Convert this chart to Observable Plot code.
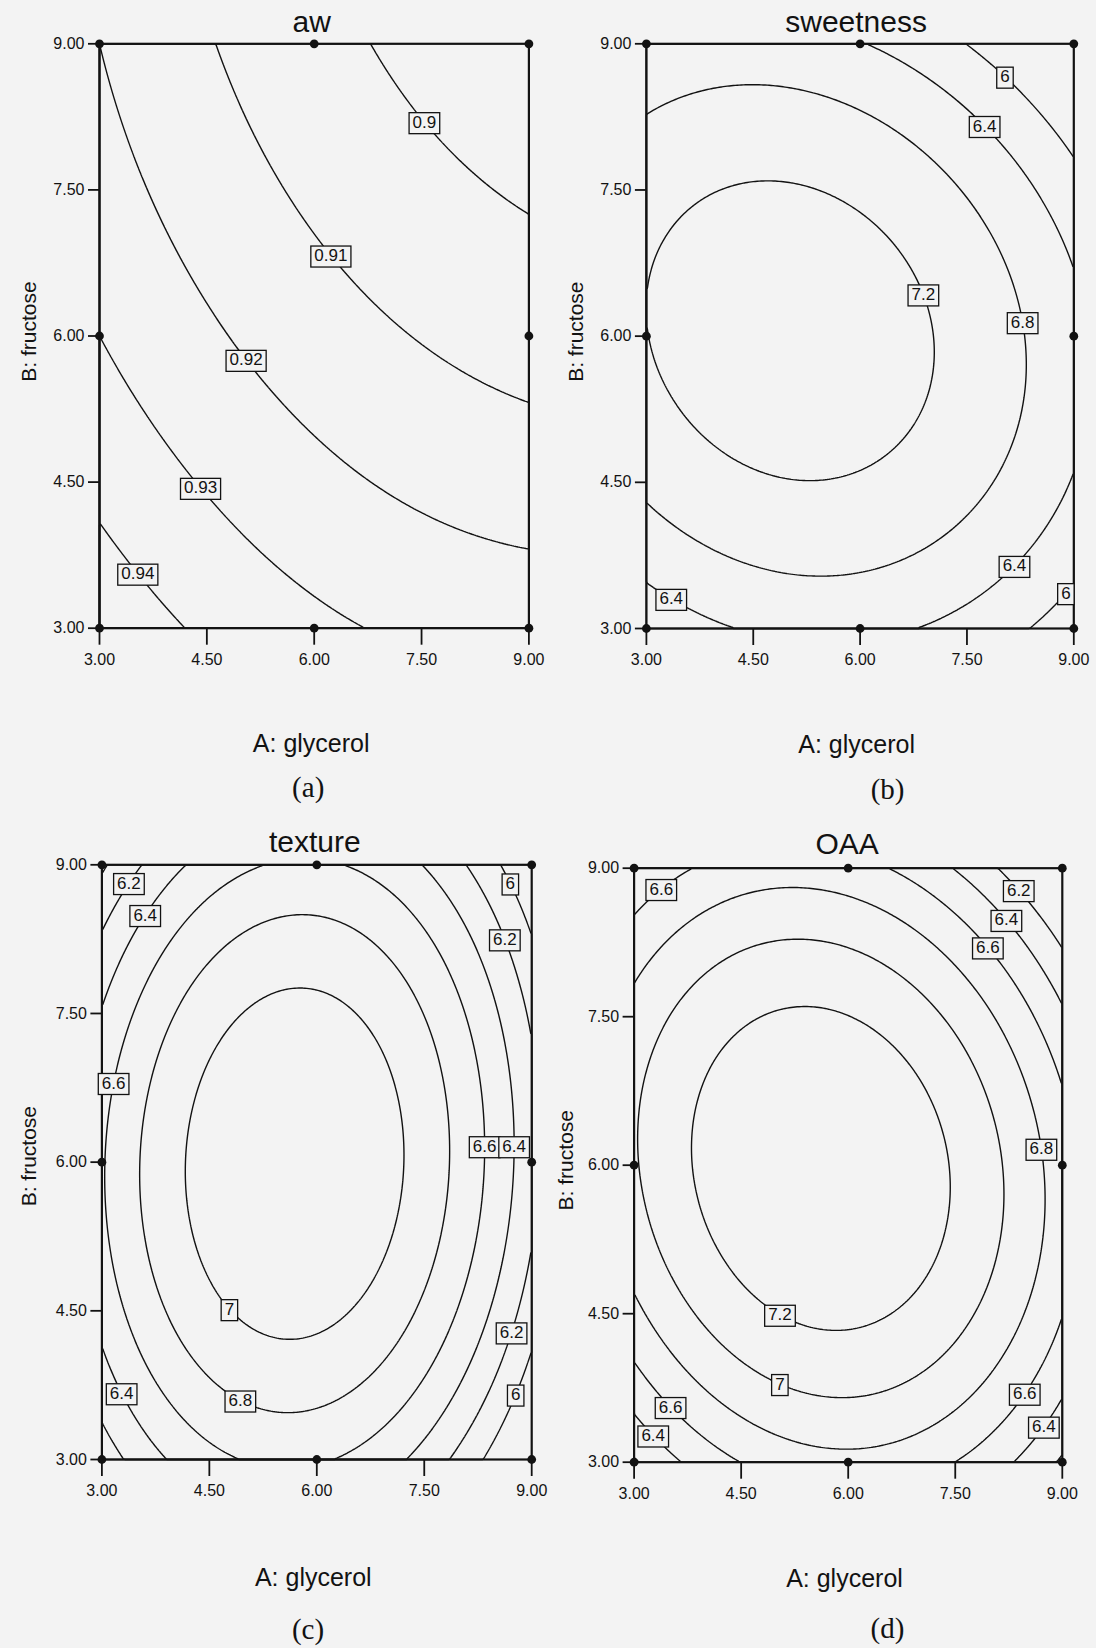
<!DOCTYPE html>
<html>
<head>
<meta charset="utf-8">
<script src="https://cdn.jsdelivr.net/npm/d3@7"></script>
<script src="https://cdn.jsdelivr.net/npm/@observablehq/plot@0.6"></script>
<style>
  html, body { margin: 0; padding: 0; background: #f3f3f3; }
  #fig { position: relative; width: 1096px; height: 1648px; overflow: hidden; background: #f3f3f3; }
  .panel { position: absolute; }
</style>
</head>
<body>
<div id="fig"></div>
<script>
// ---------------- DATA ----------------
// design levels of the two factors (A: glycerol, B: fructose)
const glycerolLevels = [3, 6, 9];
const fructoseLevels = [3, 6, 9];
const axisTicks = [3, 4.5, 6, 7.5, 9];
// design points drawn as dots
const designGlycerol = [3, 6, 9, 3, 9, 3, 6, 9];
const designFructose = [3, 3, 3, 6, 6, 9, 9, 9];

// responses read at the design grid: rows = fructose 3, 6, 9; columns = glycerol 3, 6, 9
const awGrid = [
  [0.9469, 0.9322, 0.9262],
  [0.9300, 0.9147, 0.9061],
  [0.9200, 0.9032, 0.8937]
];
const sweetnessGrid = [
  [6.110, 6.484, 5.760],
  [7.193, 7.381, 6.504],
  [6.455, 6.417, 5.300]
];
const textureGrid = [
  [6.075, 6.621, 5.647],
  [6.581, 7.190, 6.265],
  [5.965, 6.622, 5.787]
];
const oaaGrid = [
  [6.177, 6.743, 6.169],
  [6.979, 7.390, 6.694],
  [6.422, 6.675, 5.830]
];

// contour levels
const awLevels = [0.90, 0.91, 0.92, 0.93, 0.94];
const sweetnessLevels = [6.0, 6.4, 6.8, 7.2];
const textureLevels = [6.0, 6.2, 6.4, 6.6, 6.8, 7.0];
const oaaLevels = [6.2, 6.4, 6.6, 6.8, 7.0, 7.2];

// contour labels (level, glycerol, fructose)
const awLabelLevel = [0.90, 0.91, 0.92, 0.93, 0.94];
const awLabelX = [7.58, 6.31, 5.14, 4.50, 3.60];
const awLabelY = [8.24, 6.91, 5.85, 4.54, 3.63];

const sweetnessLabelLevel = [6.0, 6.4, 7.2, 6.8, 6.4, 6.4, 6.0];
const sweetnessLabelX = [8.10, 7.81, 6.93, 8.27, 3.40, 8.10, 8.84];
const sweetnessLabelY = [8.76, 8.24, 6.45, 6.14, 3.42, 3.73, 3.42];

const textureLabelLevel = [6.2, 6.4, 6.6, 7.0, 6.8, 6.4, 6.6, 6.4, 6.2, 6.0, 6.2, 6.0];
const textureLabelX = [3.35, 3.54, 3.34, 4.87, 4.98, 3.35, 8.32, 8.70, 8.63, 8.73, 8.61, 8.68];
const textureLabelY = [8.84, 8.55, 6.75, 4.63, 3.72, 3.72, 6.16, 6.16, 8.25, 8.83, 4.33, 3.71];

const oaaLabelLevel = [6.6, 6.2, 6.4, 6.6, 6.8, 7.2, 7.0, 6.6, 6.4, 6.6, 6.4];
const oaaLabelX = [3.34, 8.44, 8.27, 8.00, 8.63, 5.11, 5.09, 3.59, 3.36, 8.39, 8.66];
const oaaLabelY = [8.86, 8.84, 8.54, 8.25, 6.15, 4.65, 3.94, 3.66, 3.39, 3.77, 3.44];

const titles = ["aw", "sweetness", "texture", "OAA"];
const captions = ["(a)", "(b)", "(c)", "(d)"];
const xAxisLabel = "A: glycerol";
const yAxisLabel = "B: fructose";

// ---------------- HELPERS ----------------
function lagrange(nodes, t) {
  return nodes.map((ni, i) => nodes.reduce((p, nj, j) => (j === i ? p : p * (t - nj) / (ni - nj)), 1));
}
function makeField(grid) {
  return (x, y) => {
    const wx = lagrange(glycerolLevels, x);
    const wy = lagrange(fructoseLevels, y);
    let s = 0;
    for (let j = 0; j < 3; j++) for (let i = 0; i < 3; i++) s += wy[j] * wx[i] * grid[j][i];
    return s;
  };
}
// move a label onto its contour line
function snap(f, level, x, y) {
  for (let k = 0; k < 10; k++) {
    const h = 1e-3, v = f(x, y) - level;
    const gx = (f(x + h, y) - f(x - h, y)) / (2 * h);
    const gy = (f(x, y + h) - f(x, y - h)) / (2 * h);
    const g2 = gx * gx + gy * gy;
    if (g2 < 1e-14) break;
    let dx = -v * gx / g2, dy = -v * gy / g2;
    const s = Math.hypot(dx, dy);
    if (s > 0.12) { dx *= 0.12 / s; dy *= 0.12 / s; }
    x += dx; y += dy;
  }
  return [x, y];
}
const fmtLevel = v => String(+v.toFixed(3));

// ---------------- LAYOUT ----------------
const panels = [
  { grid: awGrid, levels: awLevels, lv: awLabelLevel, lx: awLabelX, ly: awLabelY,
    left: 0, top: 0, width: 548, height: 820, frame: {l: 99, r: 528.4, t: 43.3, b: 627.7},
    titleDx: -2.5, titleBase: -11.6, xlabDx: -3, xlabBase: 124, capDx: -6, capBase: 169, ylabBase: -64, ylabDy: -4.5 },
  { grid: sweetnessGrid, levels: sweetnessLevels, lv: sweetnessLabelLevel, lx: sweetnessLabelX, ly: sweetnessLabelY,
    left: 548, top: 0, width: 548, height: 820, frame: {l: 97.9, r: 525.3, t: 43.3, b: 628},
    titleDx: -4, titleBase: -11.6, xlabDx: -3.5, xlabBase: 124, capDx: 27.5, capBase: 170, ylabBase: -63, ylabDy: -4.5 },
  { grid: textureGrid, levels: textureLevels, lv: textureLabelLevel, lx: textureLabelX, ly: textureLabelY,
    left: 0, top: 820, width: 548, height: 828, frame: {l: 101.4, r: 531.2, t: 44.3, b: 639},
    titleDx: -2, titleBase: -12.6, xlabDx: -3.5, xlabBase: 126, capDx: -8.8, capBase: 179, ylabBase: -66, ylabDy: -6 },
  { grid: oaaGrid, levels: oaaLevels, lv: oaaLabelLevel, lx: oaaLabelX, ly: oaaLabelY,
    left: 548, top: 820, width: 548, height: 828, frame: {l: 85.6, r: 513.8, t: 47.7, b: 641.7},
    titleDx: -1, titleBase: -14.4, xlabDx: -3.7, xlabBase: 125, capDx: 39.3, capBase: 176, ylabBase: -61, ylabDy: -5 }
];

const sans = "'Liberation Sans', Arial, Helvetica, sans-serif";
const serif = "'Liberation Serif', 'Times New Roman', serif";
const ink = "#121212";
const fig = document.getElementById("fig");
const design = designGlycerol.map((x, i) => ({x, y: designFructose[i]}));
const tickFmt = d3.format(".2f");

panels.forEach((p, k) => {
  const f = makeField(p.grid);
  const labels = p.lv.map((lev, i) => {
    const [x, y] = snap(f, lev, p.lx[i], p.ly[i]);
    return {x, y, text: fmtLevel(lev)};
  });
  const titleFs = 30, xlabFs = 25, ylabFs = 21, capFs = 29;

  const chart = Plot.plot({
    width: p.width,
    height: p.height,
    marginLeft: p.frame.l,
    marginRight: p.width - p.frame.r,
    marginTop: p.frame.t,
    marginBottom: p.height - p.frame.b,
    x: {domain: [3, 9]},
    y: {domain: [3, 9]},
    style: {background: "transparent", fontFamily: sans, color: ink},
    marks: [
      Plot.contour({
        value: f, x1: 3, x2: 9, y1: 3, y2: 9,
        thresholds: p.levels, stroke: ink, strokeWidth: 1.4, fill: "none"
      }),
      Plot.frame({stroke: ink, strokeWidth: 2.2}),
      Plot.axisX({ticks: axisTicks, tickFormat: tickFmt, tickSize: 17, tickPadding: 8,
        fontSize: 16, strokeWidth: 1.8, label: null}),
      Plot.axisY({ticks: axisTicks, tickFormat: tickFmt, tickSize: 11, tickPadding: 4,
        fontSize: 16, strokeWidth: 1.8, label: null}),
      Plot.dot(design, {x: "x", y: "y", r: 4.4, fill: ink, stroke: "none"}),
      Plot.text(labels, {x: "x", y: "y", text: "text", fontSize: 17, fill: ink,
        className: "clabel", ariaLabel: () => "contour-label"}),
      Plot.text([titles[k]], {frameAnchor: "top", lineAnchor: "middle", textAnchor: "middle", text: d => d,
        fontSize: titleFs, fill: ink, dx: p.titleDx, dy: p.titleBase - 0.32 * titleFs}),
      Plot.text([xAxisLabel], {frameAnchor: "bottom", lineAnchor: "middle", textAnchor: "middle", text: d => d,
        fontSize: xlabFs, fill: ink, dx: p.xlabDx, dy: p.xlabBase - 0.32 * xlabFs}),
      Plot.text([captions[k]], {frameAnchor: "bottom", lineAnchor: "middle", textAnchor: "middle", text: d => d,
        fontSize: capFs, fontFamily: serif, fill: ink, dx: p.capDx, dy: p.capBase - 0.32 * capFs}),
      Plot.text([yAxisLabel], {frameAnchor: "left", lineAnchor: "middle", textAnchor: "middle", rotate: -90, text: d => d,
        fontSize: ylabFs, fill: ink, dx: p.ylabBase - 0.32 * ylabFs, dy: p.ylabDy})
    ]
  });
  chart.classList.add("panel");
  chart.style.left = p.left + "px";
  chart.style.top = p.top + "px";
  fig.appendChild(chart);

  // boxes behind the contour labels
  const ns = "http://www.w3.org/2000/svg";
  const found = new Set([
    ...chart.querySelectorAll("g.clabel text"),
    ...chart.querySelectorAll('text[aria-label="contour-label"]')
  ]);
  found.forEach(t => {
    const bb = t.getBBox();
    const r = document.createElementNS(ns, "rect");
    r.setAttribute("x", bb.x - 3.5);
    r.setAttribute("y", bb.y);
    r.setAttribute("width", bb.width + 7);
    r.setAttribute("height", bb.height + 2);
    r.setAttribute("fill", "#f3f3f3");
    r.setAttribute("stroke", ink);
    r.setAttribute("stroke-width", "1.3");
    const tr = t.getAttribute("transform");
    if (tr) r.setAttribute("transform", tr);
    t.parentNode.insertBefore(r, t);
  });
});
</script>
</body>
</html>
